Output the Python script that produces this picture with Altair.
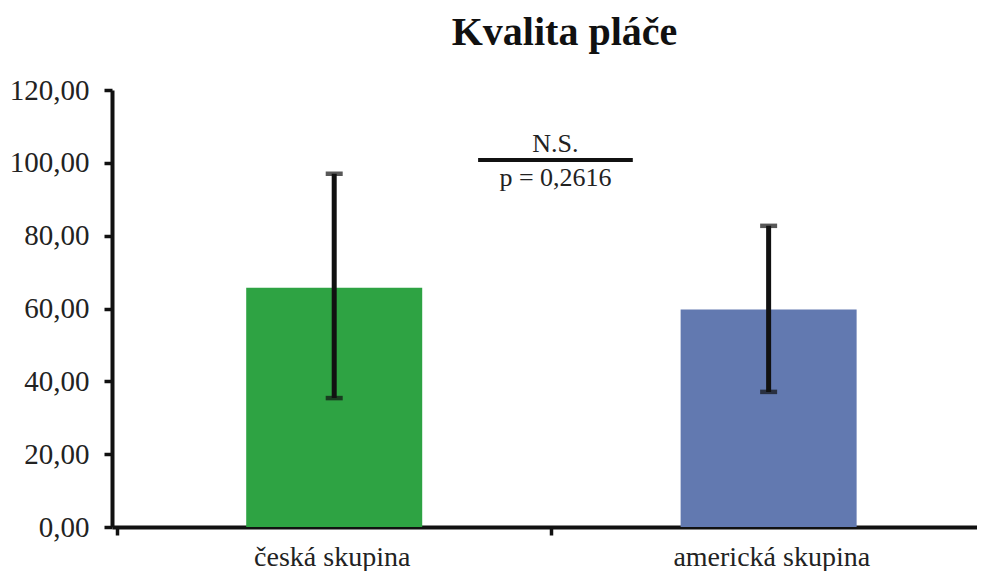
import altair as alt
import pandas as pd

categories = ["česká skupina", "americká skupina"]
means = [65.7, 59.7]
err_low = [35.4, 37.1]
err_high = [97.0, 82.7]
colors = ["#2ea343", "#6279b0"]

ann_x = [0.833, 1.185]
ann_y = 100.8
ann_top = "N.S."
ann_bottom = "p = 0,2616"

df = pd.DataFrame({"cat": categories, "mean": means, "lo": err_low, "hi": err_high, "color": colors})
df["pos"] = [i + 0.5 for i in range(len(categories))]
ann = pd.DataFrame({"x1": [ann_x[0]], "x2": [ann_x[1]], "xm": [(ann_x[0] + ann_x[1]) / 2], "y": [ann_y],
                    "top": [ann_top], "bottom": [ann_bottom]})

FONT = "Liberation Serif"
INK = "#111"
PLOT_W = 865
STEP = 439.5  # pixels per category band (axis runs past the right edge, as in the original)
yscale = alt.Scale(domain=[0, 120], nice=False)
xq = alt.Scale(domain=[0, PLOT_W / STEP], nice=False, zero=False)

x_ticks_axis = alt.Axis(values=list(range(len(categories))), labels=False, orient="bottom",
                        domainColor=INK, domainWidth=4, tickColor=INK, tickWidth=3.5, tickSize=8,
                        grid=False, title=None)
y_axis = alt.Axis(values=[0, 20, 40, 60, 80, 100, 120],
                  labelExpr="replace(format(datum.value, '.2f'), '.', ',')",
                  labelFont=FONT, labelFontSize=29, labelColor="#222", labelPadding=15,
                  domainColor=INK, domainWidth=4, tickColor=INK, tickWidth=3.5,
                  tickSize=8, grid=False)

label_expr = " : ".join(
    [f"datum.value == {i + 0.5} ? '{c}'" for i, c in enumerate(categories)] + ["''"])
x_label_axis = alt.Axis(values=[i + 0.5 for i in range(len(categories))], labelExpr=label_expr,
                        orient="bottom", domain=False, ticks=False, grid=False, labelFont=FONT,
                        labelFontSize=28, labelColor="#222", labelPadding=16, labelLimit=500,
                        title=None)

bars = alt.Chart(df).mark_bar(size=176).encode(
    x=alt.X("pos:Q", scale=xq, axis=x_ticks_axis),
    y=alt.Y("mean:Q", scale=yscale, title=None, axis=y_axis),
    color=alt.Color("color:N", scale=None),
)
rules = alt.Chart(df).mark_rule(color=INK, strokeWidth=5).encode(
    x=alt.X("pos:Q", scale=xq), y=alt.Y("lo:Q", scale=yscale), y2="hi:Q")
cap_lo = alt.Chart(df).mark_tick(color=INK, thickness=4.5, size=17, orient="horizontal").encode(
    x=alt.X("pos:Q", scale=xq), y=alt.Y("lo:Q", scale=yscale))
cap_hi = alt.Chart(df).mark_tick(color=INK, thickness=4.5, size=17, orient="horizontal").encode(
    x=alt.X("pos:Q", scale=xq), y=alt.Y("hi:Q", scale=yscale))

base_layer = alt.layer(bars, rules, cap_lo, cap_hi)

ann_line = alt.Chart(ann).mark_rule(color=INK, strokeWidth=4).encode(
    x=alt.X("x1:Q", scale=xq, axis=x_label_axis), x2="x2:Q", y=alt.Y("y:Q", scale=yscale))
ann_t1 = alt.Chart(ann).mark_text(font=FONT, fontSize=26, color="#222", baseline="bottom", dy=-3).encode(
    x=alt.X("xm:Q", scale=xq), y=alt.Y("y:Q", scale=yscale), text="top:N")
ann_t2 = alt.Chart(ann).mark_text(font=FONT, fontSize=26, color="#222", baseline="top", dy=5).encode(
    x=alt.X("xm:Q", scale=xq), y=alt.Y("y:Q", scale=yscale), text="bottom:N")
ann_layer = alt.layer(ann_line, ann_t1, ann_t2)

chart = alt.layer(base_layer, ann_layer).resolve_scale(x="independent").properties(
    width=PLOT_W, height=437,
    autosize=alt.AutoSizeParams(type="none"),
    padding={"left": 104, "top": 82, "right": 0, "bottom": 44},
    title=alt.TitleParams("Kvalita pláče", font=FONT, fontSize=40, fontWeight="bold", color=INK,
                          anchor="middle", dx=20, offset=23),
).configure_view(stroke=None)

chart.save("out.html", embed_options={"renderer": "svg", "actions": False})
